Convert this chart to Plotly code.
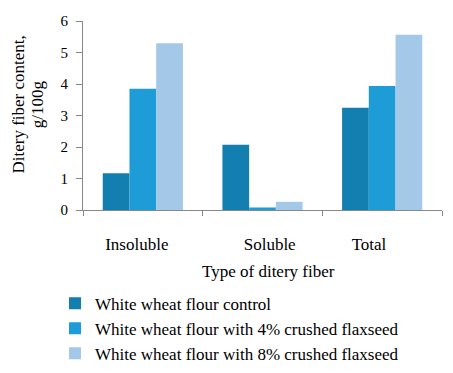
import plotly.graph_objects as go

categories = ["Insoluble", "Soluble", "Total"]
series_names = [
    "White wheat flour control",
    "White wheat flour with 4% crushed flaxseed",
    "White wheat flour with 8% crushed flaxseed",
]
control = [1.17, 2.07, 3.25]
flax4 = [3.85, 0.08, 3.94]
flax8 = [5.29, 0.26, 5.56]
y_ticks = [0, 1, 2, 3, 4, 5, 6]
label_positions = [-0.05, 1.06, 1.89]

colors = ["#137FB1", "#1E9CD7", "#A4C8E7"]
FONT = "Liberation Serif"

fig = go.Figure()
for name, vals, col in zip(series_names, [control, flax4, flax8], colors):
    fig.add_trace(go.Bar(x=categories, y=vals, name=name,
                         marker=dict(color=col, line=dict(width=0))))

# invisible trace to activate label axis
fig.add_trace(go.Scatter(x=[-0.5, 2.5], y=[0, 0], xaxis="x2", mode="markers",
                         marker=dict(opacity=0), showlegend=False, hoverinfo="skip"))

fig.update_layout(
    width=445, height=365,
    margin=dict(l=75, r=11, t=13, b=163, autoexpand=False),
    paper_bgcolor="white", plot_bgcolor="white",
    font=dict(family=FONT, size=17, color="black"),
    barmode="group", bargap=0.33, bargroupgap=0,
    xaxis=dict(type="category", range=[-0.5, 2.5], showticklabels=False,
               showline=True, linecolor="#888888", linewidth=1,
               ticks="outside", tickson="boundaries", ticklen=5, tickcolor="#888888",
               showgrid=False, zeroline=False, fixedrange=True, automargin=False),
    xaxis2=dict(overlaying="x", anchor="y", side="bottom", type="linear",
                range=[-0.5, 2.5], tickvals=label_positions, ticktext=categories,
                showline=False, ticks="", showgrid=False, zeroline=False, automargin=False,
                ticklabelstandoff=22, tickfont=dict(size=17, family=FONT, color="black")),
    yaxis=dict(range=[0, 6], tickvals=y_ticks, showline=True, linecolor="#888888",
               linewidth=1, ticks="outside", ticklen=6, tickcolor="#888888", automargin=False,
               ticklabelstandoff=5,
               showgrid=False, zeroline=False, tickfont=dict(size=15, family=FONT, color="black")),
    legend=dict(orientation="v", x=-0.078, xanchor="left", y=-0.40, yanchor="top",
                font=dict(size=17, family=FONT, color="black"), bgcolor="rgba(0,0,0,0)",
                traceorder="normal", itemwidth=30),
    annotations=[
        dict(text="Type of ditery fiber", xref="paper", yref="paper", x=0.518, y=-0.328,
             xanchor="center", yanchor="middle", showarrow=False, font=dict(size=17)),
        dict(text="Ditery fiber content,", xref="paper", yref="paper",
             x=-0.18, y=0.56, xanchor="center", yanchor="middle", textangle=-90,
             showarrow=False, font=dict(size=17)),
        dict(text="g/100g", xref="paper", yref="paper",
             x=-0.128, y=0.56, xanchor="center", yanchor="middle", textangle=-90,
             showarrow=False, font=dict(size=17)),
    ],
)

fig.write_html("out.html")
